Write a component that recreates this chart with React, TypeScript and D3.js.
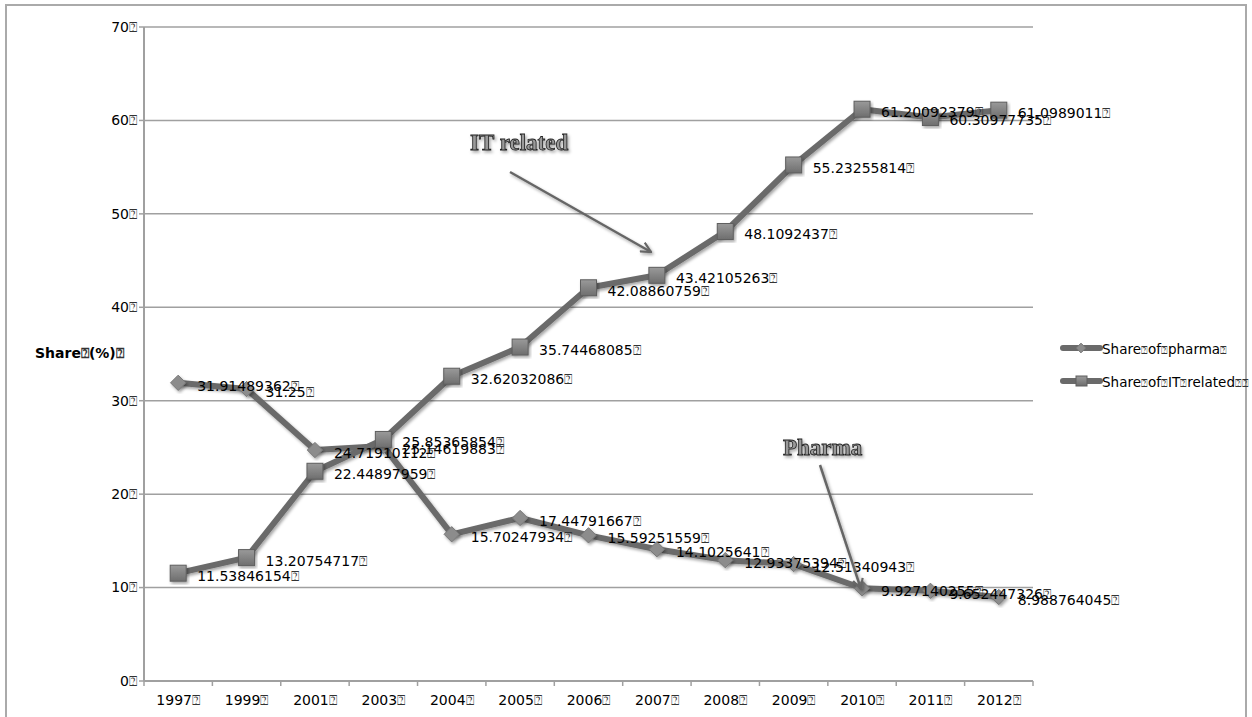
import React from "react";
import * as d3 from "d3";

const years = ["1997", "1999", "2001", "2003", "2004", "2005", "2006", "2007", "2008", "2009", "2010", "2011", "2012"];
const pharma = [31.91489362, 31.25, 24.71910112, 25.14619883, 15.70247934, 17.44791667, 15.59251559, 14.1025641, 12.93375394, 12.51340943, 9.927140255, 9.652447326, 8.988764045];
const pharmaLabels = ["31.91489362", "31.25", "24.71910112", "25.14619883", "15.70247934", "17.44791667", "15.59251559", "14.1025641", "12.93375394", "12.51340943", "9.927140255", "9.652447326", "8.988764045"];
const itRelated = [11.53846154, 13.20754717, 22.44897959, 25.85365854, 32.62032086, 35.74468085, 42.08860759, 43.42105263, 48.1092437, 55.23255814, 61.20092379, 60.30977735, 61.0989011];
const itLabels = ["11.53846154", "13.20754717", "22.44897959", "25.85365854", "32.62032086", "35.74468085", "42.08860759", "43.42105263", "48.1092437", "55.23255814", "61.20092379", "60.30977735", "61.0989011"];
const yTicks = [0, 10, 20, 30, 40, 50, 60, 70];

const TOFU = "\u2370";

const W = 1252;
const H = 717;
const left = 144;
const right = 1033;
const top = 27;
const bottom = 681;

export default function App() {
  const x = d3.scaleBand<string>().domain(years).range([left, right]);
  const y = d3.scaleLinear().domain([0, 70]).range([bottom, top]);
  const cx = (i: number) => (x(years[i]) as number) + x.bandwidth() / 2;
  const line = d3.line<number>().x((_, i) => cx(i)).y((d) => y(d));
  const font = "'DejaVu Sans', Verdana, sans-serif";
  const Tofu = ({ s = 14 }: { s?: number }) => <tspan fontSize={s} fill="#333">{TOFU}</tspan>;
  const FS = 14;

  const diamond = d3.symbol().type(d3.symbolDiamond2).size(150)();
  const sq = 16;

  return (
    <svg width={W} height={H} style={{ position: "fixed", left: 0, top: 0, background: "#fff" }} fontFamily={font}>
      <defs>
        <filter id="sh" x="-20%" y="-20%" width="140%" height="140%">
          <feDropShadow dx="1.5" dy="2" stdDeviation="1.5" floodColor="#000" floodOpacity="0.35" />
        </filter>
        <linearGradient id="sqg" x1="0" y1="0" x2="0" y2="1">
          <stop offset="0" stopColor="#9a9a9a" />
          <stop offset="1" stopColor="#6e6e6e" />
        </linearGradient>
        <marker id="ah" viewBox="0 0 12 12" refX="11" refY="6" markerWidth="12" markerHeight="12" markerUnits="userSpaceOnUse" orient="auto">
          <path d="M1,1 L11,6 L1,11" fill="none" stroke="#666" strokeWidth="2.2" />
        </marker>
      </defs>
      <rect x={6} y={5} width={1240} height={730} fill="none" stroke="#aaa" strokeWidth={2} />

      {yTicks.filter((t) => t > 0).map((t) => (
        <line key={t} x1={left} x2={right} y1={y(t)} y2={y(t)} stroke="#a0a0a0" strokeWidth={1.5} />
      ))}
      <line x1={left} x2={left} y1={top} y2={bottom} stroke="#a0a0a0" strokeWidth={2} />
      <line x1={left} x2={right} y1={bottom} y2={bottom} stroke="#a0a0a0" strokeWidth={2} />
      {yTicks.map((t) => (
        <g key={t}>
          <line x1={left - 5} x2={left} y1={y(t)} y2={y(t)} stroke="#a0a0a0" strokeWidth={1.5} />
          <text x={left - 7} y={y(t)} dy="0.35em" textAnchor="end" fontSize={FS} fill="#000">
            {t}<Tofu />
          </text>
        </g>
      ))}
      {years.map((yr) => (
        <line key={yr} x1={x(yr) as number} x2={x(yr) as number} y1={bottom} y2={bottom + 5} stroke="#a0a0a0" strokeWidth={1.5} />
      ))}
      <line x1={right} x2={right} y1={bottom} y2={bottom + 5} stroke="#a0a0a0" strokeWidth={1.5} />
      {years.map((yr, i) => (
        <text key={yr} x={cx(i)} y={bottom + 19} dy="0.35em" textAnchor="middle" fontSize={FS} fill="#000">
          {yr}<Tofu />
        </text>
      ))}

      <text x={35} y={353} dy="0.35em" fontSize={FS} fontWeight="bold" fill="#000">
        Share<Tofu />(%)<Tofu />
      </text>

      <path d={line(pharma) as string} fill="none" stroke="#6a6a6a" strokeWidth={6} strokeLinejoin="round" filter="url(#sh)" />
      <path d={line(itRelated) as string} fill="none" stroke="#6a6a6a" strokeWidth={6} strokeLinejoin="round" filter="url(#sh)" />

      {pharma.map((v, i) => (
        <path key={"pm" + i} d={diamond as string} transform={`translate(${cx(i)},${y(v)})`} fill="#8c8c8c" stroke="#777" strokeWidth={1} filter="url(#sh)" />
      ))}
      {itRelated.map((v, i) => (
        <rect key={"im" + i} x={cx(i) - sq / 2} y={y(v) - sq / 2} width={sq} height={sq} fill="url(#sqg)" stroke="#5e5e5e" strokeWidth={1} filter="url(#sh)" />
      ))}

      {pharma.map((v, i) => (
        <text key={"pl" + i} x={cx(i) + 19} y={y(v) + 3} dy="0.35em" fontSize={FS} fill="#000">
          {pharmaLabels[i]}<Tofu />
        </text>
      ))}
      {itRelated.map((v, i) => (
        <text key={"il" + i} x={cx(i) + 19} y={y(v) + 3} dy="0.35em" fontSize={FS} fill="#000">
          {itLabels[i]}<Tofu />
        </text>
      ))}

      <g filter="url(#sh)">
        <text x={470} y={150} fontFamily="'Liberation Serif', 'Times New Roman', serif" fontWeight="bold" fontSize={23} fill="#9a9a9a" stroke="#222" strokeWidth={0.8}>IT related</text>
        <text x={783} y={455} fontFamily="'Liberation Serif', 'Times New Roman', serif" fontWeight="bold" fontSize={23} fill="#9a9a9a" stroke="#222" strokeWidth={0.8}>Pharma</text>
      </g>
      <line x1={510} y1={172} x2={651} y2={252} stroke="#666" strokeWidth={2.5} markerEnd="url(#ah)" filter="url(#sh)" />
      <line x1={820} y1={465} x2={861} y2={589} stroke="#666" strokeWidth={2.5} markerEnd="url(#ah)" filter="url(#sh)" />

      <line x1={1063} x2={1100} y1={348} y2={348} stroke="#6a6a6a" strokeWidth={6} strokeLinecap="round" />
      <path d={d3.symbol().type(d3.symbolDiamond2).size(60)() as string} transform="translate(1081,348)" fill="#8c8c8c" stroke="#777" />
      <text x={1102} y={349} dy="0.35em" fontSize={13.5} fill="#000">Share<Tofu s={11} />of<Tofu s={11} />pharma<Tofu s={11} /></text>
      <line x1={1063} x2={1100} y1={381} y2={381} stroke="#6a6a6a" strokeWidth={6} strokeLinecap="round" />
      <rect x={1076} y={376} width={11} height={10} fill="url(#sqg)" stroke="#5e5e5e" />
      <text x={1102} y={382} dy="0.35em" fontSize={13.5} fill="#000">Share<Tofu s={11} />of<Tofu s={11} />IT<Tofu s={11} />related<Tofu s={11} /><Tofu s={11} /></text>
    </svg>
  );
}
